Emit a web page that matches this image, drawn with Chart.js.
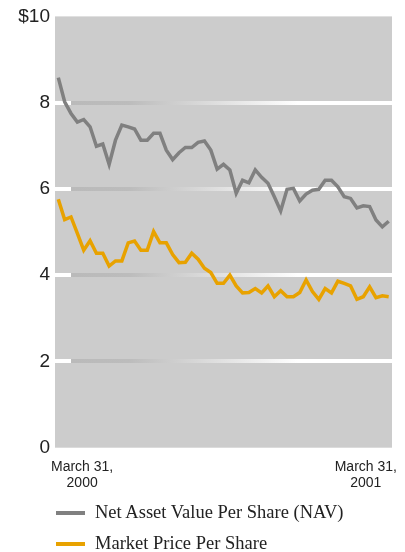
<!DOCTYPE html>
<html>
<head>
<meta charset="utf-8">
<script src="https://cdn.jsdelivr.net/npm/chart.js@4.4.1/dist/chart.umd.min.js"></script>
<style>
  body { margin: 0; background: #fff; }
  #wrap { position: relative; width: 405px; height: 552px; }
  #legend { position: absolute; left: 56px; top: 497px; font-family: 'Liberation Serif', 'Times New Roman', serif; font-size: 18.5px; color: #222; }
  .item { display: flex; align-items: center; height: 31px; }
  .swatch { width: 29px; height: 4px; margin-right: 10px; }
</style>
</head>
<body>
<div id="wrap">
  <canvas id="navChart" width="405" height="500"></canvas>
  <div id="legend"></div>
</div>
<script>
// weekly values, March 31, 2000 to March 31, 2001
const navValues = [8.58, 8.02, 7.75, 7.55, 7.61, 7.44, 6.99, 7.04, 6.57, 7.13,
    7.48, 7.44, 7.39, 7.13, 7.13, 7.29, 7.29, 6.90, 6.68, 6.84,
    6.96, 6.96, 7.08, 7.11, 6.90, 6.46, 6.57, 6.44, 5.90, 6.20,
    6.14, 6.44, 6.27, 6.13, 5.82, 5.49, 5.99, 6.01, 5.72, 5.88,
    5.97, 5.99, 6.20, 6.20, 6.05, 5.82, 5.78, 5.56, 5.61, 5.59,
    5.28, 5.12, 5.25];
const marketValues = [5.76, 5.29, 5.35, 4.97, 4.58, 4.80, 4.51, 4.51, 4.21, 4.33,
    4.33, 4.75, 4.79, 4.58, 4.58, 5.01, 4.75, 4.75, 4.48, 4.29,
    4.30, 4.51, 4.37, 4.16, 4.06, 3.81, 3.81, 4.00, 3.75, 3.59,
    3.60, 3.69, 3.59, 3.75, 3.50, 3.64, 3.50, 3.50, 3.60, 3.89,
    3.62, 3.44, 3.69, 3.59, 3.86, 3.81, 3.75, 3.44, 3.50, 3.73,
    3.48, 3.52, 3.50];
const weekIndex = navValues.map((v, i) => i);
const seriesNames = ['Net Asset Value Per Share (NAV)', 'Market Price Per Share'];
const seriesColors = ['#808080', '#e8a200'];
const xTickLabels = [['March 31,', '2000'], ['March 31,', '2001']];

// gray plot background
const plotBackground = {
    id: 'plotBackground',
    beforeDraw(chart) {
        const { ctx, chartArea: a } = chart;
        ctx.save();
        ctx.fillStyle = '#cccccc';
        ctx.fillRect(a.left, a.top, a.right - a.left, a.bottom - a.top);
        ctx.restore();
    }
};

function gridColor(context) {
    const v = context.tick && context.tick.value;
    if (v === 0 || v === 10) return 'rgba(0,0,0,0)';
    const chart = context.chart;
    const a = chart.chartArea;
    if (!a) return '#fff';
    const g = chart.ctx.createLinearGradient(a.left, 0, a.right, 0);
    g.addColorStop(0, '#ffffff');
    g.addColorStop(0.047, '#ffffff');
    g.addColorStop(0.048, '#bababa');
    g.addColorStop(0.22, '#bcbcbc');
    g.addColorStop(0.72, '#ffffff');
    g.addColorStop(1, '#ffffff');
    return g;
}

new Chart(document.getElementById('navChart'), {
    type: 'line',
    data: {
        labels: weekIndex,
        datasets: [{
            label: seriesNames[0],
            data: navValues,
            borderColor: seriesColors[0],
            borderWidth: 3.5,
            pointRadius: 0,
            tension: 0
        }, {
            label: seriesNames[1],
            data: marketValues,
            borderColor: seriesColors[1],
            borderWidth: 3.5,
            pointRadius: 0,
            tension: 0
        }]
    },
    options: {
        responsive: false,
        animation: false,
        devicePixelRatio: 1,
        layout: { padding: { left: 0, right: 13, top: 16, bottom: 0 } },
        plugins: {
            legend: { display: false },
            tooltip: { enabled: false }
        },
        scales: {
            x: {
                type: 'linear',
                min: -0.52,
                max: 52.52,
                grid: { display: false, drawTicks: false },
                border: { display: false },
                afterBuildTicks: scale => { scale.ticks = [{ value: 3.75 }, { value: 48.4 }]; },
                afterFit: scale => {
                    scale.height = 52.3;
                    scale.paddingLeft = 0;
                    scale.paddingRight = 0;
                },
                ticks: {
                    padding: 11,
                    maxRotation: 0,
                    autoSkip: false,
                    color: '#222',
                    font: { family: "'Liberation Sans', Arial, sans-serif", size: 14, lineHeight: 1.15 },
                    callback: (v, i) => xTickLabels[i]
                }
            },
            y: {
                min: 0,
                max: 10,
                grid: { color: gridColor, lineWidth: 4, drawTicks: false },
                border: { display: false },
                afterFit: scale => { scale.width = 55; },
                ticks: {
                    stepSize: 2,
                    padding: 5,
                    color: '#222',
                    font: { family: "'Liberation Sans', Arial, sans-serif", size: 19 },
                    callback: v => v === 10 ? '$10' : v
                }
            }
        }
    },
    plugins: [plotBackground]
});

const legend = document.getElementById('legend');
seriesNames.forEach((name, i) => {
    const row = document.createElement('div');
    row.className = 'item';
    row.innerHTML = '<span class="swatch" style="background:' + seriesColors[i] + '"></span><span>' + name + '</span>';
    legend.appendChild(row);
});
</script>
</body>
</html>
